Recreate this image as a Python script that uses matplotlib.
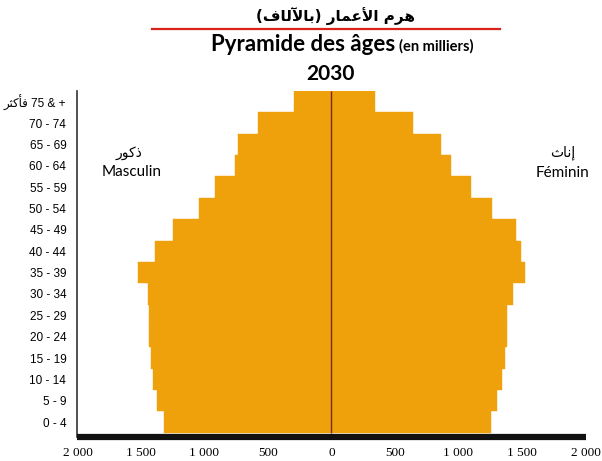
import matplotlib
matplotlib.use('Agg')
import matplotlib.pyplot as plt
import numpy as np

# Arabic is written with presentation forms in visual order (matplotlib has no bidi shaping)
ar_title = ("(\uFED1\uFE8E\uFEDF\uFEF5\uFE8E\uFE91) "
            "\uFEAD\uFE8E\uFEE4\uFECB\uFEF7\uFE8D "
            "\uFEE1\uFEAE\uFEEB")
ar_male = "\uFEAD\uFEEE\uFEDB\uFEAB"
ar_female = "\uFE99\uFE8E\uFEE7\uFE87"
ar_more = "\uFEAE\uFE9C\uFEDB\uFE84\uFED3"

ages = ['0 - 4', '5 - 9', '10 - 14', '15 - 19', '20 - 24', '25 - 29', '30 - 34',
        '35 - 39', '40 - 44', '45 - 49', '50 - 54', '55 - 59', '60 - 64',
        '65 - 69', '70 - 74', ar_more + ' 75 & +']
male = [1320, 1375, 1405, 1425, 1440, 1435, 1445, 1520, 1390, 1250, 1040, 915,
        760, 735, 580, 295]
female = [1255, 1305, 1340, 1365, 1380, 1385, 1430, 1525, 1495, 1455, 1265, 1100,
          940, 865, 640, 345]
xticks = [-2000, -1500, -1000, -500, 0, 500, 1000, 1500, 2000]
xlabels = ['2 000', '1 500', '1 000', '500', '0', '500', '1 000', '1 500', '2 000']

orange = '#EFA10C'

fig = plt.figure(figsize=(6.02, 4.61), dpi=100)
ax = fig.add_axes([0.1287, 0.052, 0.8439, 0.7505])

y = np.arange(len(ages))
ax.barh(y, -np.array(male), height=1.0, color=orange, edgecolor=orange, linewidth=0.3)
ax.barh(y, female, height=1.0, color=orange, edgecolor=orange, linewidth=0.3)
ax.vlines(0, -0.5, len(ages) - 0.5, color='#7B2A12', linewidth=1.0)

ax.set_xlim(-2000, 2000)
ax.set_ylim(-0.7, 15.5)

ax.set_xticks(xticks)
ax.set_xticklabels(xlabels, family='Liberation Serif', fontsize=9.5)
ax.set_yticks(y)
ax.set_yticklabels(ages, family=['Liberation Sans', 'DejaVu Sans'], fontsize=8.5)
ax.tick_params(axis='x', length=0, pad=7)
ax.tick_params(axis='y', length=0, pad=8)

for s in ['top', 'right']:
    ax.spines[s].set_visible(False)
ax.spines['left'].set_linewidth(1.2)
ax.spines['left'].set_color('#333333')
ax.spines['bottom'].set_linewidth(4.5)
ax.spines['bottom'].set_color('#111111')
ax.spines['bottom'].set_capstyle('butt')

# side labels
ax.text(-1595, 12.6, ar_male, ha='center', va='center', fontsize=10, family='DejaVu Sans')
ax.text(-1570, 11.7, 'Masculin', ha='center', va='center', fontsize=11, family='Lato')
ax.text(1820, 12.6, ar_female, ha='center', va='center', fontsize=10, family='DejaVu Sans')
ax.text(1820, 11.65, 'Féminin', ha='center', va='center', fontsize=11, family='Lato')

# titles
W, H = 602, 461
fig.text(336 / W, 1 - 16 / H, ar_title, ha='center', va='center', fontsize=11,
         fontweight='bold', family='DejaVu Sans')
fig.add_artist(plt.Line2D([152 / W, 500 / W], [1 - 29 / H, 1 - 29 / H],
                          color='#D8231C', linewidth=1.6))
fig.text(395 / W, 1 - 51 / H, 'Pyramide des âges', ha='right', va='baseline',
         fontsize=16, fontweight='bold', family='Lato')
fig.text(399 / W, 1 - 51 / H, '(en milliers)', ha='left', va='baseline',
         fontsize=10.5, fontweight='bold', family='Lato')
fig.text(330 / W, 1 - 80 / H, '2030', ha='center', va='baseline',
         fontsize=15, fontweight='bold', family='Lato')

plt.savefig('out.png', dpi=100)
